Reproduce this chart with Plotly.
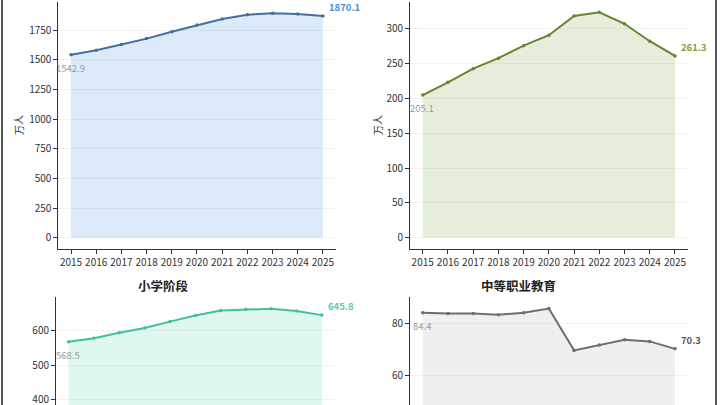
import plotly.graph_objects as go

years = list(range(2015, 2026))
total_teachers = [1542.9, 1582, 1630, 1680, 1737, 1794, 1845, 1882, 1893, 1887, 1870.1]
preschool = [205.1, 223.3, 243.0, 258.0, 276.0, 291.0, 318.8, 324.0, 307.5, 282.4, 261.3]
primary = [568.5, 578.5, 594.6, 608.5, 627.0, 644.5, 659.5, 662.5, 664.0, 658.0, 645.8]
vocational = [84.4, 84.1, 84.1, 83.6, 84.4, 86.0, 69.7, 71.8, 73.8, 73.2, 70.3]

titles_bottom = ["小学阶段", "中等职业教育"]
unit_label = "万人"

FONT = "Noto Sans CJK SC, Noto Sans, sans-serif"

panels = [
    dict(y=total_teachers, line="#44709e", fill="rgba(74,144,226,0.20)", lab="#4a8fd8",
         xd=[58.4 / 720, 335.5 / 720], yd=[(405 - 249) / 405, (405 - 1.5) / 405],
         yr=[-95, 1993], tv=[0, 250, 500, 750, 1000, 1250, 1500, 1750]),
    dict(y=preschool, line="#66862c", fill="rgba(125,170,75,0.20)", lab="#8b9b38",
         xd=[410.1 / 720, 687.6 / 720], yd=[(405 - 249) / 405, (405 - 1.5) / 405],
         yr=[-16.2, 339.5], tv=[0, 50, 100, 150, 200, 250, 300]),
    dict(y=primary, line="#3fc09f", fill="rgba(100,215,180,0.20)", lab="#5ccaa9",
         xd=[56 / 720, 334.5 / 720], yd=[0, (405 - 297.3) / 405],
         yr=[385, 697.5], tv=[400, 500, 600]),
    dict(y=vocational, line="#6e6e6e", fill="rgba(150,150,150,0.15)", lab="#555555",
         xd=[410.1 / 720, 687.6 / 720], yd=[0, (405 - 297.3) / 405],
         yr=[48.4, 90.4], tv=[60, 80]),
]

fig = go.Figure()
annotations = []
for i, p in enumerate(panels):
    n = "" if i == 0 else str(i + 1)
    xa, ya = "x" + n, "y" + n
    fig.add_trace(go.Scatter(
        x=years, y=p["y"], mode="lines+markers", fill="tozeroy",
        fillcolor=p["fill"], line=dict(color=p["line"], width=2),
        marker=dict(size=3.5, color=p["line"]), xaxis=xa, yaxis=ya,
        showlegend=False, hoverinfo="skip"))
    top = i < 2
    fig.layout["xaxis" + n] = dict(
        domain=p["xd"], anchor=ya, range=[2014.5, 2025.5],
        tickvals=years, ticktext=[str(v) for v in years],
        showticklabels=top, ticks="outside" if top else "", ticklen=4, tickcolor="#333",
        showline=top, linecolor="#333", linewidth=1, showgrid=False,
        zeroline=False, tickfont=dict(size=10, color="#333", family=FONT))
    fig.layout["yaxis" + n] = dict(
        domain=p["yd"], anchor=xa, range=p["yr"], tickvals=p["tv"],
        ticks="outside", ticklen=4, tickcolor="#333", ticklabeloverflow="allow",
        showline=True, linecolor="#333", linewidth=1,
        showgrid=True, gridcolor="#f3f3f3", gridwidth=1, zeroline=False,
        tickfont=dict(size=10, color="#333", family=FONT))
    annotations.append(dict(
        x=years[0], y=p["y"][0], xref=xa, yref=ya, text=f"{p['y'][0]:.1f}",
        showarrow=False, xanchor="center", yanchor="middle", yshift=-13, xshift=-1,
        font=dict(size=9.5, color="#9a9a9a", family=FONT)))
    annotations.append(dict(
        x=years[-1], y=p["y"][-1], xref=xa, yref=ya, text=f"<b>{p['y'][-1]:.1f}</b>",
        showarrow=False, xanchor="left", yanchor="middle", xshift=4, yshift=9,
        font=dict(size=9.5, color=p["lab"], family=FONT)))

for xp in [18 / 720, 377 / 720]:
    annotations.append(dict(
        x=xp, y=(405 - 125) / 405, xref="paper", yref="paper", text=unit_label,
        textangle=-90, showarrow=False, xanchor="center", yanchor="middle",
        font=dict(size=10, color="#333", family=FONT)))

for t, xp in zip(titles_bottom, [163 / 720, 518 / 720]):
    annotations.append(dict(
        x=xp, y=(405 - 285) / 405, xref="paper", yref="paper", text=f"<b>{t}</b>",
        showarrow=False, xanchor="center", yanchor="middle",
        font=dict(size=12.5, color="#222", family=FONT)))

shapes = [
    dict(type="line", xref="paper", yref="paper", x0=2 / 720, x1=2 / 720, y0=0, y1=1,
         line=dict(color="#555", width=2)),
    dict(type="line", xref="paper", yref="paper", x0=716 / 720, x1=716 / 720, y0=0, y1=1,
         line=dict(color="#555", width=2)),
]

fig.update_layout(
    width=720, height=405, margin=dict(l=0, r=0, t=0, b=0),
    paper_bgcolor="white", plot_bgcolor="white",
    annotations=annotations, shapes=shapes,
    font=dict(family=FONT),
)

fig.write_html("out.html")
